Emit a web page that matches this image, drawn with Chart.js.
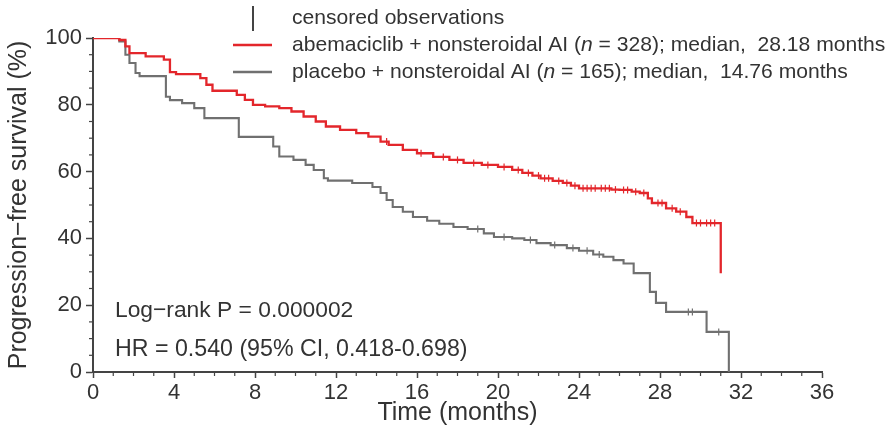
<!DOCTYPE html>
<html>
<head>
<meta charset="utf-8">
<script src="https://cdn.jsdelivr.net/npm/chart.js@4.4.1/dist/chart.umd.min.js"></script>
<style>
  html, body { margin: 0; padding: 0; background: #fff; }
  #wrap { width: 889px; height: 438px; position: relative; }
</style>
</head>
<body>
<div id="wrap"><canvas id="km"></canvas></div>
<script>
// Kaplan-Meier steps (months, % progression-free)
const abemaT = [0,1.3,1.6,1.8,2.6,3.5,3.8,4.1,5.3,5.6,5.9,7.1,7.5,7.9,8.5,9.2,9.8,10.4,11.0,11.5,12.2,13.0,13.6,14.2,14.6,15.3,16.0,16.8,17.6,18.3,19.2,20.0,20.7,21.2,21.7,22.1,22.7,23.2,23.6,24.0,25.6,26.0,26.6,27.0,27.4,27.6,28.3,28.8,29.3,29.6,31.0];
const abemaS = [100,99.4,97.5,95.5,94.5,93.5,89.8,89.2,88,86,84.2,83,81.5,80,79.5,79,78,76.5,75,73.5,72.5,71.5,70.5,69,68,66.5,65.5,64.4,63.5,62.6,62,61.4,60.5,59.6,58.8,58,57.2,56.6,55.8,55,54.6,54.5,54,53.6,52,50.6,49,48,46.4,44.6,29.6];
const placeboT = [0,1.3,1.6,1.8,2.1,2.3,3.6,3.8,4.4,5.0,5.5,7.2,8.9,9.2,9.9,10.5,10.9,11.4,11.6,12.8,13.8,14.2,14.5,14.8,15.3,15.8,16.5,17.1,17.8,18.5,19.3,19.8,20.7,21.3,21.9,22.6,23.4,24.0,24.7,25.2,25.7,26.2,26.7,27.5,27.8,28.3,30.3,31.4];
const placeboS = [100,99,95,92.5,89.5,88.6,82.4,81.4,80.5,79,76,70.4,67.5,64.5,63.5,62,60.5,58,57.3,56.6,55.4,53.6,51.5,49.4,48,46.4,45.3,44.4,43.4,42.8,41.5,40.4,40,39.5,38.6,38,37.1,36.3,35.2,34.5,33.5,32.5,29.6,24,20.7,18,12,0];

// censoring times
const abemaCens = [14.5,16.2,17.3,18.0,18.8,19.5,20.3,21.0,21.5,22.0,22.3,22.5,23.0,23.4,23.8,24.2,24.4,24.6,24.8,25.1,25.3,25.5,25.8,26.2,26.4,26.8,27.2,27.9,28.1,28.6,29.0,29.8,30.0,30.3,30.5,30.7];
const placeboCens = [19.0,20.3,21.6,22.8,23.7,24.4,25.0,29.4,29.6,30.9];

const xTicks = [0,4,8,12,16,20,24,28,32,36];
const yTicks = [0,20,40,60,80,100];

const RED = '#e3262b';
const GREY = '#707070';
const INK = '#333333';
const FONT = '"Liberation Sans", Arial, sans-serif';

function toPts(t, s) { return t.map((v, i) => ({ x: v, y: s[i] })); }
function survAt(t, s, time) {
    let v = s[0];
    for (let i = 0; i < t.length; i++) if (t[i] <= time) v = s[i];
    return v;
}
function censPts(c, t, s) { return c.map(v => ({ x: v, y: survAt(t, s, v) })); }

// minor ticks, legend and the statistics text
const extras = {
    id: 'extras',
    afterDraw(chart) {
        const c = chart.ctx, xs = chart.scales.x, ys = chart.scales.y;
        const a = chart.chartArea;
        c.save();
        c.strokeStyle = '#444';
        c.lineWidth = 1.2;
        for (let m = 0; m <= 36; m++) {
            if (m % 4 === 0) continue;
            const px = xs.getPixelForValue(m);
            c.beginPath(); c.moveTo(px, a.bottom - 1); c.lineTo(px, a.bottom + 4); c.stroke();
        }
        for (let p = 0; p <= 100; p += 5) {
            if (p % 20 === 0) continue;
            const py = ys.getPixelForValue(p);
            c.beginPath(); c.moveTo(a.left + 1, py); c.lineTo(a.left - 4, py); c.stroke();
        }

        // legend
        c.lineWidth = 2;
        c.strokeStyle = '#444';
        c.beginPath(); c.moveTo(253, 6); c.lineTo(253, 31); c.stroke();
        c.lineWidth = 2.5;
        c.strokeStyle = RED;
        c.beginPath(); c.moveTo(233, 45); c.lineTo(272, 45); c.stroke();
        c.strokeStyle = GREY;
        c.beginPath(); c.moveTo(233, 72); c.lineTo(272, 72); c.stroke();

        c.fillStyle = INK;
        c.textBaseline = 'middle';
        c.textAlign = 'left';
        const rows = [
            [['censored observations', false]],
            [['abemaciclib + nonsteroidal AI (', false], ['n', true], [' = 328); median,  28.18 months', false]],
            [['placebo + nonsteroidal AI (', false], ['n', true], [' = 165); median,  14.76 months', false]]
        ];
        const rowY = [18, 45, 72];
        rows.forEach((parts, i) => {
            let x = 292;
            parts.forEach(([txt, it]) => {
                c.font = (it ? 'italic ' : '') + '21.1px ' + FONT;
                c.fillText(txt, x, rowY[i]);
                x += c.measureText(txt).width;
            });
        });

        c.font = '22.8px ' + FONT;
        c.fillText('Log\u2212rank P = 0.000002', 115, 311);
        c.font = '23.2px ' + FONT;
        c.fillText('HR = 0.540 (95% CI, 0.418-0.698)', 115, 350);
        c.restore();
    }
};

new Chart(document.getElementById('km'), {
    type: 'line',
    data: {
        datasets: [
            { label: 'abemaciclib', data: toPts(abemaT, abemaS), borderColor: RED, borderWidth: 2.3, stepped: true, pointRadius: 0, fill: false, order: 1 },
            { label: 'placebo', data: toPts(placeboT, placeboS), borderColor: GREY, borderWidth: 2.1, stepped: true, pointRadius: 0, fill: false, order: 2 },
            { type: 'scatter', label: 'abema censored', data: censPts(abemaCens, abemaT, abemaS), pointStyle: 'line', rotation: 90, pointRadius: 3.5, borderColor: RED, borderWidth: 1.2, showLine: false },
            { type: 'scatter', label: 'placebo censored', data: censPts(placeboCens, placeboT, placeboS), pointStyle: 'line', rotation: 90, pointRadius: 3.5, borderColor: GREY, borderWidth: 1.2, showLine: false }
        ]
    },
    plugins: [extras],
    options: {
        responsive: true,
        maintainAspectRatio: false,
        animation: false,
        layout: { padding: { top: 38, right: 67, left: 0, bottom: 0 } },
        plugins: { legend: { display: false }, tooltip: { enabled: false } },
        scales: {
            x: {
                type: 'linear', min: 0, max: 36,
                afterBuildTicks: s => { s.ticks = xTicks.map(v => ({ value: v })); },
                afterFit: s => { s.height = 66; },
                border: { color: '#444', width: 2 },
                grid: { drawOnChartArea: false, color: '#444', tickLength: 6, tickWidth: 1.5 },
                ticks: { color: INK, font: { family: FONT, size: 22 }, padding: 2, maxRotation: 0 },
                title: { display: true, text: 'Time (months)', color: INK, font: { family: FONT, size: 25, lineHeight: 1 }, padding: { top: 0, bottom: 12 } }
            },
            y: {
                type: 'linear', min: 0, max: 100,
                afterBuildTicks: s => { s.ticks = yTicks.map(v => ({ value: v })); },
                afterFit: s => { s.width = 93; },
                border: { color: '#444', width: 2 },
                grid: { drawOnChartArea: false, color: '#444', tickLength: 7, tickWidth: 1.5 },
                ticks: { color: INK, font: { family: FONT, size: 22 }, padding: 4 },
                title: { display: true, text: 'Progression\u2212free survival (%)', color: INK, font: { family: FONT, size: 25, lineHeight: 1 }, padding: { top: 7, bottom: 0 } }
            }
        }
    }
});
</script>
</body>
</html>
